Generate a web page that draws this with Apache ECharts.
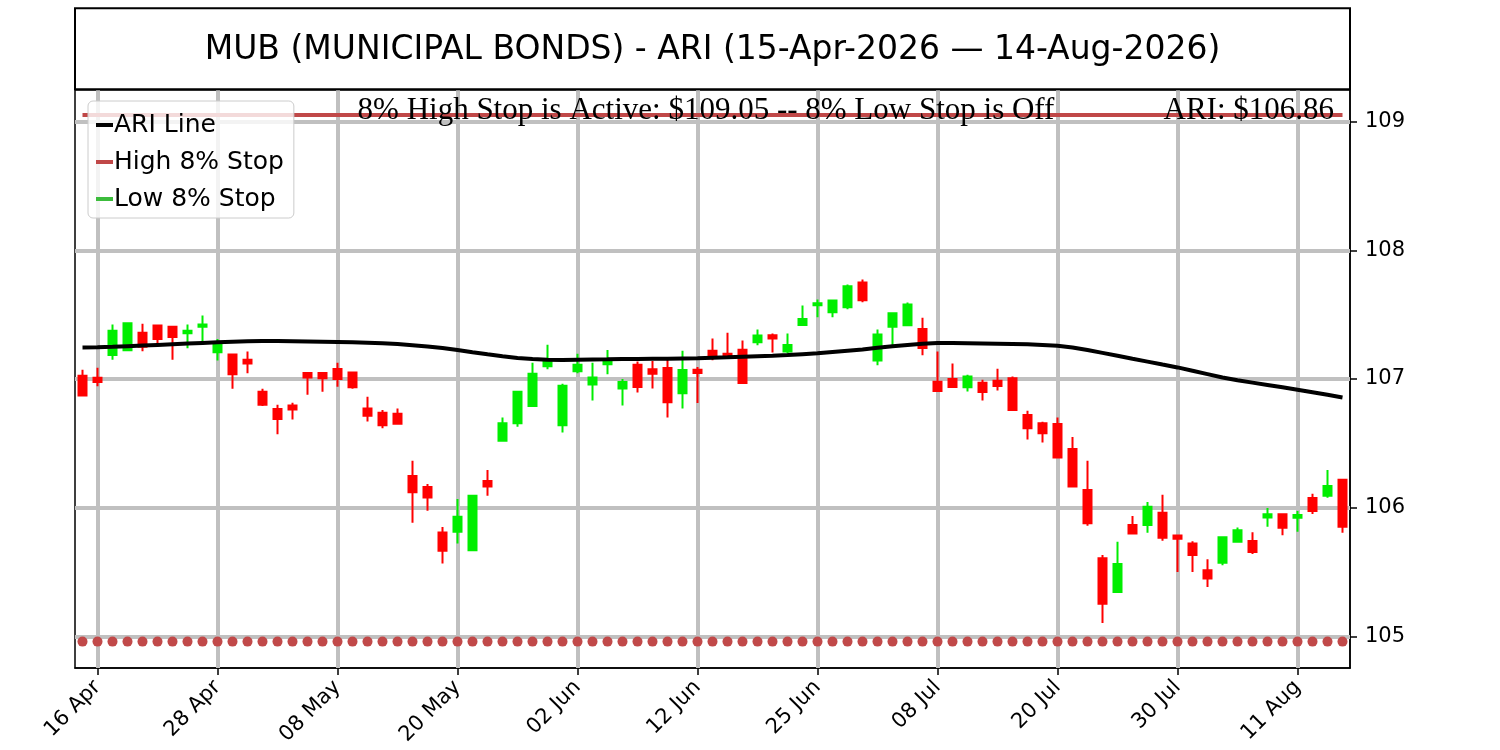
<!DOCTYPE html>
<html>
<head>
<meta charset="utf-8">
<script src="https://cdn.jsdelivr.net/npm/echarts@6.0.0/dist/echarts.min.js"></script>
<style>
html, body { margin: 0; padding: 0; background: #ffffff; }
#chart { width: 1500px; height: 750px; }
</style>
</head>
<body>
<div id="chart"></div>
<script>
const chartTitle = 'MUB (MUNICIPAL BONDS) - ARI (15-Apr-2026 \u2014 14-Aug-2026)';

const dates = [
  '15 Apr','16 Apr','17 Apr','20 Apr','21 Apr','22 Apr','23 Apr','24 Apr','27 Apr','28 Apr','29 Apr','30 Apr',
  '01 May','04 May','05 May','06 May','07 May','08 May','11 May','12 May','13 May','14 May','15 May','18 May','19 May','20 May','21 May','22 May','26 May','27 May','28 May','29 May',
  '01 Jun','02 Jun','03 Jun','04 Jun','05 Jun','08 Jun','09 Jun','10 Jun','11 Jun','12 Jun','15 Jun','16 Jun','17 Jun','18 Jun','22 Jun','23 Jun','24 Jun','25 Jun','26 Jun','29 Jun','30 Jun',
  '01 Jul','02 Jul','06 Jul','07 Jul','08 Jul','09 Jul','10 Jul','13 Jul','14 Jul','15 Jul','16 Jul','17 Jul','20 Jul','21 Jul','22 Jul','23 Jul','24 Jul','27 Jul','28 Jul','29 Jul','30 Jul','31 Jul',
  '03 Aug','04 Aug','05 Aug','06 Aug','07 Aug','10 Aug','11 Aug','12 Aug','13 Aug','14 Aug'
];

const xTickLabels = ['16 Apr','28 Apr','08 May','20 May','02 Jun','12 Jun','25 Jun','08 Jul','20 Jul','30 Jul','11 Aug'];
const yTickValues = [105, 106, 107, 108, 109];

const opens = [
  107.026,107.010,107.187,107.223,107.360,107.415,107.405,107.355,107.405,107.207,
  107.190,107.150,106.900,106.766,106.794,107.047,107.047,107.078,107.050,106.770,
  106.738,106.730,106.247,106.161,105.808,105.813,105.670,106.208,106.520,106.657,
  106.790,107.100,106.640,107.060,106.958,107.114,106.927,107.110,107.075,107.086,
  106.890,107.072,107.220,107.197,107.228,107.285,107.340,107.213,107.420,107.573,
  107.519,107.558,107.750,107.143,107.405,107.417,107.389,106.979,107.000,106.935,
  106.971,106.987,107.005,106.720,106.657,106.650,106.457,106.138,105.608,105.346,
  105.865,105.865,105.961,105.785,105.723,105.515,105.572,105.735,105.741,105.925,
  105.950,105.922,106.075,106.093,106.218
];
const closes = [
  106.872,106.977,107.374,107.433,107.250,107.310,107.327,107.374,107.423,107.267,
  107.036,107.120,106.800,106.690,106.763,107.012,107.005,107.000,106.935,106.714,
  106.640,106.652,106.120,106.080,105.665,105.930,106.093,106.164,106.657,106.900,
  107.040,107.135,106.948,107.110,107.012,107.156,106.977,106.938,107.040,106.820,
  107.070,107.047,107.184,107.171,106.969,107.337,107.314,107.265,107.467,107.589,
  107.610,107.720,107.612,107.345,107.511,107.579,107.241,106.907,106.938,107.020,
  106.899,106.945,106.759,106.618,106.579,106.390,106.164,105.879,105.255,105.562,
  105.800,106.008,105.766,105.759,105.632,105.450,105.770,105.826,105.657,105.950,
  105.844,105.943,105.974,106.169,105.852
];
const lows = [
  106.872,106.943,107.150,107.223,107.215,107.280,107.150,107.238,107.267,107.143,
  106.925,107.044,106.790,106.570,106.685,106.878,106.900,106.940,106.925,106.670,
  106.618,106.644,105.883,105.977,105.567,105.723,105.665,106.093,106.512,106.630,
  106.790,107.075,106.584,107.044,106.833,107.036,106.794,106.896,106.927,106.700,
  106.770,106.813,107.145,107.158,106.969,107.262,107.205,107.200,107.420,107.480,
  107.480,107.542,107.597,107.106,107.262,107.417,107.184,106.907,106.938,106.903,
  106.833,106.911,106.759,106.530,106.506,106.382,106.164,105.860,105.104,105.346,
  105.800,105.805,105.743,105.500,105.500,105.385,105.554,105.727,105.640,105.852,
  105.787,105.813,105.951,106.078,105.805
];
const highs = [
  107.072,107.088,107.423,107.438,107.430,107.415,107.405,107.423,107.493,107.310,
  107.190,107.213,106.925,106.800,106.815,107.047,107.047,107.127,107.050,106.862,
  106.760,106.770,106.364,106.185,105.850,106.068,106.100,106.294,106.700,106.900,
  107.127,107.267,106.963,107.197,107.127,107.226,107.000,107.135,107.140,107.150,
  107.220,107.093,107.314,107.360,107.300,107.384,107.353,107.353,107.571,107.618,
  107.618,107.734,107.773,107.384,107.516,107.594,107.475,107.213,107.120,107.033,
  106.995,107.080,107.020,106.753,106.667,106.700,106.550,106.364,105.632,105.735,
  105.935,106.045,106.100,105.785,105.740,105.600,105.770,105.847,105.810,105.997,
  105.950,105.974,106.109,106.294,106.218
];
const ariLine = [
  107.245,107.246,107.250,107.255,107.260,107.265,107.270,107.275,107.280,107.285,
  107.290,107.293,107.295,107.295,107.294,107.292,107.290,107.288,107.286,107.282,
  107.277,107.271,107.263,107.253,107.240,107.225,107.208,107.192,107.177,107.163,
  107.155,107.150,107.148,107.150,107.152,107.153,107.155,107.156,107.157,107.158,
  107.160,107.162,107.165,107.168,107.172,107.176,107.180,107.186,107.193,107.200,
  107.210,107.220,107.230,107.243,107.255,107.265,107.274,107.280,107.280,107.278,
  107.276,107.274,107.272,107.269,107.265,107.258,107.245,107.225,107.203,107.180,
  107.157,107.135,107.112,107.090,107.064,107.038,107.012,106.990,106.972,106.954,
  106.936,106.917,106.897,106.877,106.857
];
const highStopLine = [
  109.05,109.05,109.05,109.05,109.05,109.05,109.05,109.05,109.05,109.05,
  109.05,109.05,109.05,109.05,109.05,109.05,109.05,109.05,109.05,109.05,
  109.05,109.05,109.05,109.05,109.05,109.05,109.05,109.05,109.05,109.05,
  109.05,109.05,109.05,109.05,109.05,109.05,109.05,109.05,109.05,109.05,
  109.05,109.05,109.05,109.05,109.05,109.05,109.05,109.05,109.05,109.05,
  109.05,109.05,109.05,109.05,109.05,109.05,109.05,109.05,109.05,109.05,
  109.05,109.05,109.05,109.05,109.05,109.05,109.05,109.05,109.05,109.05,
  109.05,109.05,109.05,109.05,109.05,109.05,109.05,109.05,109.05,109.05,
  109.05,109.05,109.05,109.05,109.05
];
const offDots = [
  104.96,104.96,104.96,104.96,104.96,104.96,104.96,104.96,104.96,104.96,
  104.96,104.96,104.96,104.96,104.96,104.96,104.96,104.96,104.96,104.96,
  104.96,104.96,104.96,104.96,104.96,104.96,104.96,104.96,104.96,104.96,
  104.96,104.96,104.96,104.96,104.96,104.96,104.96,104.96,104.96,104.96,
  104.96,104.96,104.96,104.96,104.96,104.96,104.96,104.96,104.96,104.96,
  104.96,104.96,104.96,104.96,104.96,104.96,104.96,104.96,104.96,104.96,
  104.96,104.96,104.96,104.96,104.96,104.96,104.96,104.96,104.96,104.96,
  104.96,104.96,104.96,104.96,104.96,104.96,104.96,104.96,104.96,104.96,
  104.96,104.96,104.96,104.96,104.96
];
const highStopValue = 109.05;

const ohlc = dates.map((d, i) => [opens[i], closes[i], lows[i], highs[i]]);
const isTick = (idx, val) => xTickLabels.indexOf(val) >= 0;

const gridLines = yTickValues.map(v => ({ yAxis: v })).concat(xTickLabels.map(d => ({ xAxis: d })));

const chart = echarts.init(document.getElementById('chart'), null, { renderer: 'canvas' });
chart.setOption({
  animation: false,
  backgroundColor: '#ffffff',
  title: {
    text: chartTitle,
    left: 712.5,
    textAlign: 'center',
    top: 30,
    padding: 0,
    textStyle: { fontFamily: 'DejaVu Sans', fontSize: 33, fontWeight: 'normal', color: '#000', lineHeight: 40 }
  },
  legend: {
    orient: 'vertical',
    left: 88,
    top: 101,
    z: 10,
    padding: [10, 10, 5, 8],
    itemGap: 9,
    itemWidth: 17,
    itemHeight: 4,
    icon: 'rect',
    backgroundColor: 'rgba(255,255,255,0.8)',
    borderColor: '#cccccc',
    borderWidth: 1,
    borderRadius: 5,
    textStyle: { fontFamily: 'DejaVu Sans', fontSize: 25, color: '#000', lineHeight: 28, padding: [0, 0, 0, -4] },
    data: ['ARI Line', 'High 8% Stop', 'Low 8% Stop']
  },
  grid: {
    left: 75, top: 90, width: 1275, height: 578,
    show: true, borderColor: '#000', borderWidth: 1.5,
    containLabel: false, outerBoundsMode: 'none'
  },
  xAxis: {
    type: 'category',
    data: dates,
    boundaryGap: true,
    axisLine: { show: true, lineStyle: { color: '#000', width: 1.5 } },
    axisTick: { show: true, alignWithLabel: true, interval: isTick, length: 7, lineStyle: { color: '#000', width: 1.5 } },
    axisLabel: { show: true, interval: isTick, rotate: 45, margin: 16, fontFamily: 'DejaVu Sans', fontSize: 21, color: '#000' },
    splitLine: { show: false }
  },
  yAxis: {
    type: 'value',
    position: 'right',
    min: 104.755,
    max: 109.245,
    scale: true,
    axisLine: { show: true, lineStyle: { color: '#000', width: 1.5 } },
    axisTick: { show: true, customValues: yTickValues, length: 7, lineStyle: { color: '#000', width: 1.5 } },
    axisLabel: { show: true, customValues: yTickValues, margin: 15, fontFamily: 'DejaVu Sans', fontSize: 21, color: '#000', formatter: v => String(Math.round(v)) },
    splitLine: { show: false }
  },
  graphic: [
    { type: 'rect', z: 100, silent: true, shape: { x: 75, y: 8.3, width: 1275, height: 81 }, style: { fill: 'none', stroke: '#000', lineWidth: 2 } },
    { type: 'text', z: 100, silent: true, x: 706, y: 111,
      style: { text: '8% High Stop is Active: $' + highStopValue.toFixed(2) + ' -- 8% Low Stop is Off', font: '31px "Liberation Serif"', fill: '#000', align: 'center', verticalAlign: 'middle' } },
    { type: 'text', z: 100, silent: true, x: 1334, y: 111,
      style: { text: 'ARI: $' + ariLine[ariLine.length - 1].toFixed(2), font: '31px "Liberation Serif"', fill: '#000', align: 'right', verticalAlign: 'middle' } }
  ],
  series: [
    {
      name: 'grid', type: 'line', data: [], z: 1, silent: true,
      markLine: {
        silent: true, z: 1, symbol: ['none', 'none'], label: { show: false },
        lineStyle: { color: '#c0c0c0', width: 4, type: 'solid' },
        emphasis: { disabled: true },
        data: gridLines
      }
    },
    {
      name: 'Stop Off', type: 'scatter', data: offDots, z: 3, symbol: 'circle', symbolSize: 10,
      itemStyle: { color: '#c14949', opacity: 1 }, silent: true
    },
    {
      name: 'High 8% Stop', type: 'line', data: highStopLine, z: 3, symbol: 'none', silent: true,
      lineStyle: { color: '#c04848', width: 4 }, itemStyle: { color: '#c04848' }
    },
    {
      name: 'Low 8% Stop', type: 'line', data: [], z: 3, symbol: 'none', silent: true,
      lineStyle: { color: '#3cbc3c', width: 4 }, itemStyle: { color: '#3cbc3c' }
    },
    {
      name: 'Price', type: 'candlestick', data: ohlc, z: 4, barWidth: 9, silent: true,
      itemStyle: { color: '#00ee00', color0: '#ff0000', borderColor: '#00ee00', borderColor0: '#ff0000', borderWidth: 2 }
    },
    {
      name: 'ARI Line', type: 'line', data: ariLine, z: 5, symbol: 'none', smooth: false, silent: true,
      lineStyle: { color: '#000', width: 4 }, itemStyle: { color: '#000' }
    }
  ]
});
</script>
</body>
</html>
